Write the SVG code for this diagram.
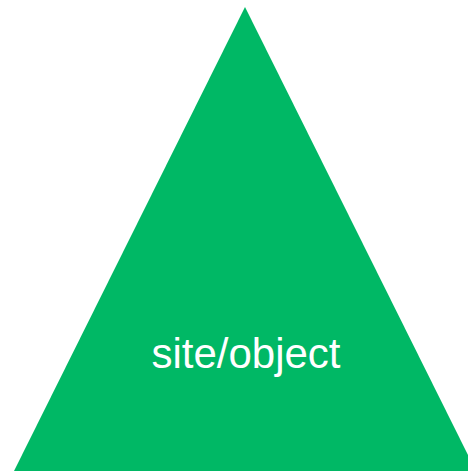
<svg xmlns="http://www.w3.org/2000/svg" width="468" height="471" viewBox="0 0 468 471">
<style>
.lbl{font-family:"Liberation Sans",Arial,sans-serif;font-size:42px;fill:#ffffff;text-anchor:middle}
</style>
<g id="site-object">
<polygon points="245,7 14,471 476,471" fill="#00B865"/>
<text class="lbl" x="246" y="368">site/object</text>
</g>
<g id="connectors"/>
</svg>
